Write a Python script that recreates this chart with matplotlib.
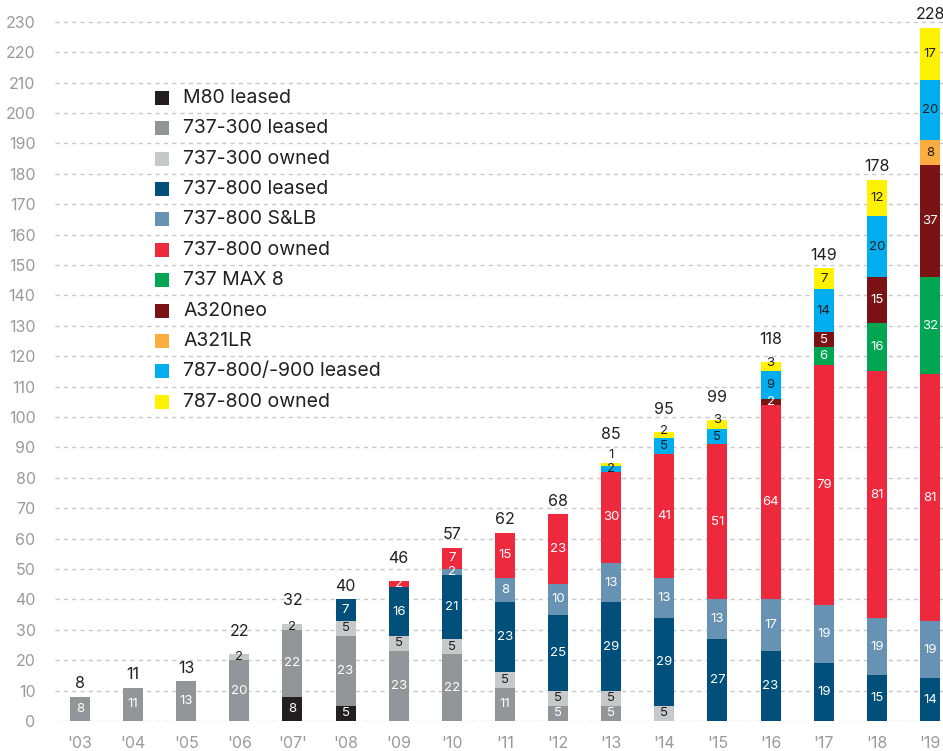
import matplotlib
matplotlib.use("Agg")
import matplotlib.pyplot as plt
import numpy as np

plt.rcParams['font.family'] = ['Inter', 'DejaVu Sans']

years = ["'03", "'04", "'05", "'06", "'07'", "'08", "'09", "'10", "'11",
         "'12", "'13", "'14", "'15", "'16", "'17", "'18", "'19"]

series_names = ["M80 leased", "737-300 leased", "737-300 owned", "737-800 leased",
                "737-800 S&LB", "737-800 owned", "737 MAX 8", "A320neo", "A321LR",
                "787-800/-900 leased", "787-800 owned"]

m80_leased      = [0, 0, 0, 0, 8, 5, 0, 0, 0, 0, 0, 0, 0, 0, 0, 0, 0]
b733_leased     = [8, 11, 13, 20, 22, 23, 23, 22, 11, 5, 5, 0, 0, 0, 0, 0, 0]
b733_owned      = [0, 0, 0, 2, 2, 5, 5, 5, 5, 5, 5, 5, 0, 0, 0, 0, 0]
b738_leased     = [0, 0, 0, 0, 0, 7, 16, 21, 23, 25, 29, 29, 27, 23, 19, 15, 14]
b738_slb        = [0, 0, 0, 0, 0, 0, 0, 2, 8, 10, 13, 13, 13, 17, 19, 19, 19]
b738_owned      = [0, 0, 0, 0, 0, 0, 2, 7, 15, 23, 30, 41, 51, 64, 79, 81, 81]
b737_max8       = [0, 0, 0, 0, 0, 0, 0, 0, 0, 0, 0, 0, 0, 0, 6, 16, 32]
a320neo         = [0, 0, 0, 0, 0, 0, 0, 0, 0, 0, 0, 0, 0, 2, 5, 15, 37]
a321lr          = [0, 0, 0, 0, 0, 0, 0, 0, 0, 0, 0, 0, 0, 0, 0, 0, 8]
b787_leased     = [0, 0, 0, 0, 0, 0, 0, 0, 0, 0, 2, 5, 5, 9, 14, 20, 20]
b787_owned      = [0, 0, 0, 0, 0, 0, 0, 0, 0, 0, 1, 2, 3, 3, 7, 12, 17]

series = [m80_leased, b733_leased, b733_owned, b738_leased, b738_slb, b738_owned,
          b737_max8, a320neo, a321lr, b787_leased, b787_owned]

colors = ["#231f20", "#939598", "#c7c8ca", "#00507b", "#6792b4", "#ee293d",
          "#00a651", "#7b1315", "#fbad3f", "#00aeef", "#fff200"]
text_colors = ["white", "white", "#231f20", "white", "white", "white",
               "white", "white", "#231f20", "#231f20", "#231f20"]

fig = plt.figure(figsize=(9.43, 7.51), dpi=100)
ax = fig.add_axes([55 / 943, 30 / 751, 888 / 943, 721 / 751])

x = np.arange(len(years))
width = 0.376
n = len(series)
bottom = np.zeros(len(years))
top_seg = np.zeros(len(years))
for k, (vals, col, tcol) in enumerate(zip(series, colors, text_colors)):
    vals = np.array(vals, dtype=float)
    ax.bar(x, vals, width, bottom=bottom, color=col, zorder=3, linewidth=0)
    for xi, v, b in zip(x, vals, bottom):
        if v > 1.5:
            # thin top slices get their number nudged upward
            dy = 3 if (k == n - 1 and v <= 3) else 0
            ax.annotate(f"{int(v)}", (xi, b + v / 2), xytext=(0, dy),
                        textcoords="offset points", ha="center", va="center",
                        color=tcol, fontsize=9.5, zorder=4)
        elif v > 0:
            # a one-aircraft slice is too thin, so its number sits just above it
            ax.annotate(f"{int(v)}", (xi, b + v), xytext=(0, 1),
                        textcoords="offset points", ha="center", va="bottom",
                        color="#231f20", fontsize=9.5, zorder=4)
    top_seg = np.where(vals > 0, vals, top_seg)
    bottom += vals

for xi, tot, ts in zip(x, bottom, top_seg):
    off = 4 if ts >= 5 else (15 if ts < 1.5 else 11)
    ax.annotate(f"{int(tot)}", (xi, tot), xytext=(0, off), textcoords="offset points",
                ha="center", va="bottom", fontsize=11.5, color="#231f20")

ax.set_xlim(-0.47, 16.245)
ax.set_ylim(0, 237.2)
ax.set_yticks(np.arange(0, 231, 10))
ax.set_xticks(x)
ax.set_xticklabels(years)
ax.tick_params(axis="both", length=0, colors="#9a9a9a", labelsize=11.5)
ax.tick_params(axis="y", pad=14)
ax.tick_params(axis="x", pad=11)
ax.yaxis.grid(True, linestyle=(0, (3, 3)), color="#c8c8c8", linewidth=1, zorder=0)
ax.set_axisbelow(True)
for sp in ax.spines.values():
    sp.set_visible(False)

# Legend rows sit between grid lines
for i, (name, col) in enumerate(zip(series_names, colors)):
    yv = 205 - 10 * i
    ax.scatter([1.54], [yv], marker="s", s=115, color=col, zorder=5, linewidths=0)
    ax.text(1.94, yv, name, ha="left", va="center", fontsize=14,
            color="#231f20", zorder=5)

fig.savefig("out.png", dpi=100)
